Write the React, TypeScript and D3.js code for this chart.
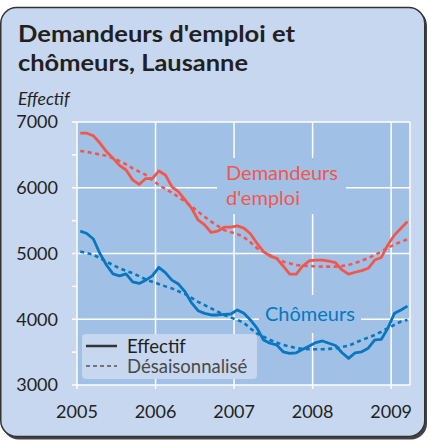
import * as d3 from "d3";

// monthly values, Jan 2005 .. Mar 2009
const demandeurs = [
  6830, 6830, 6790, 6680, 6550, 6450, 6340, 6270, 6120, 6050, 6140, 6140,
  6255, 6195, 6015, 5940, 5815, 5690, 5510, 5435, 5320, 5340, 5400, 5400,
  5420, 5385, 5300, 5155, 5030, 4960, 4925, 4810, 4685, 4685, 4810, 4890,
  4900, 4900, 4885, 4860, 4750, 4685, 4715, 4740, 4775, 4900, 4940, 5130,
  5280, 5385, 5485,
];
const demandeursDes = [
  6560, 6545, 6525, 6505, 6485, 6450, 6405, 6355, 6295, 6245, 6195, 6120,
  6040, 5985, 5925, 5860, 5790, 5715, 5635, 5560, 5485, 5420, 5355, 5325,
  5295, 5250, 5170, 5080, 5025, 4975, 4925, 4875, 4850, 4825, 4815, 4810,
  4805, 4800, 4800, 4800, 4810, 4825, 4855, 4890, 4930, 4975, 5030, 5090,
  5135, 5180, 5215,
];
const chomeurs = [
  5340, 5305, 5220, 5000, 4825, 4690, 4660, 4690, 4570, 4545, 4595, 4660,
  4790, 4710, 4595, 4535, 4420, 4250, 4130, 4090, 4065, 4065, 4075, 4080,
  4140, 4090, 3990, 3865, 3685, 3635, 3610, 3505, 3480, 3490, 3545, 3595,
  3645, 3670, 3635, 3600, 3490, 3405, 3490, 3505, 3560, 3685, 3695, 3865,
  4090, 4140, 4200,
];
const chomeursDes = [
  5030, 5005, 4980, 4930, 4875, 4825, 4775, 4735, 4700, 4655, 4605, 4570,
  4535, 4500, 4470, 4425, 4385, 4325, 4265, 4215, 4165, 4115, 4065, 4025,
  3990, 3945, 3860, 3785, 3735, 3685, 3645, 3610, 3585, 3560, 3550, 3545,
  3543, 3543, 3550, 3558, 3578, 3598, 3640, 3685, 3720, 3760, 3810, 3865,
  3915, 3965, 3990,
];
const years = [2005, 2006, 2007, 2008, 2009];
const yTicks = [3000, 4000, 5000, 6000, 7000];
const yMinor = [3500, 4500, 5500, 6500];

const PANEL = "#c6d7ef";
const PLOT = "#a0c0e6";
const RED = "#f2574c";
const BLUE = "#0677c0";
const FONT = "Lato, 'Open Sans', sans-serif";

export default function App() {
  const x = d3.scaleLinear().domain([2005, 2009.24]).range([77, 410]);
  const y = d3.scaleLinear().domain([3000, 7000]).range([385, 122]);
  const t = (i: number) => 2005 + (i + 0.5) / 12;

  const line = d3
    .line<number>()
    .x((_, i) => x(t(i)))
    .y((d) => y(d))
    .curve(d3.curveLinear);

  return (
    <svg
      width={429}
      height={441}
      style={{ position: "absolute", left: 0, top: 0 }}
      fontFamily={FONT}
    >
      <rect x={2.5} y={9.5} width={424.5} height={430} rx={16} fill="#444" />
      <rect x={0.75} y={7.5} width={424} height={429} rx={16} fill={PANEL} stroke="#333" strokeWidth={1.5} />

      <text x={18} y={42} fontSize={22.5} fontWeight="bold" fill="#231f20" textLength={277} lengthAdjust="spacingAndGlyphs">
        Demandeurs d'emploi et
      </text>
      <text x={18} y={71} fontSize={22.5} fontWeight="bold" fill="#231f20" textLength={230} lengthAdjust="spacingAndGlyphs">
        chômeurs, Lausanne
      </text>
      <text x={18} y={105} fontSize={17.5} fontStyle="italic" fill="#231f20">
        Effectif
      </text>

      <rect x={x(2005)} y={y(7000)} width={x.range()[1] - x(2005)} height={y(3000) - y(7000)} fill={PLOT} />

      {yTicks.map((v) => (
        <line key={"h" + v} x1={72} x2={410} y1={y(v)} y2={y(v)} stroke="#fff" strokeWidth={1.5} />
      ))}
      {yMinor.map((v) => (
        <line key={"m" + v} x1={72} x2={77} y1={y(v)} y2={y(v)} stroke="#fff" strokeWidth={1.5} />
      ))}
      {years.map((v) => (
        <line key={"v" + v} x1={x(v)} x2={x(v)} y1={y(7000)} y2={389} stroke="#fff" strokeWidth={1.5} />
      ))}
      <line x1={410} x2={410} y1={y(7000)} y2={y(3000)} stroke="#fff" strokeWidth={1.5} />

      {/* label halos */}
      <rect x={217} y={158} width={129} height={56} fill={PLOT} />
      <rect x={259} y={295} width={102} height={38} fill={PLOT} />

      <path d={line(demandeursDes) ?? ""} fill="none" stroke={RED} strokeWidth={2.6} strokeDasharray="4,3.5" />
      <path d={line(chomeursDes) ?? ""} fill="none" stroke={BLUE} strokeWidth={2.6} strokeDasharray="4,3.5" />
      <path d={line(demandeurs) ?? ""} fill="none" stroke={RED} strokeWidth={2.8} strokeLinejoin="round" />
      <path d={line(chomeurs) ?? ""} fill="none" stroke={BLUE} strokeWidth={2.8} strokeLinejoin="round" />

      <text x={226} y={180} fontSize={20} fill={RED}>Demandeurs</text>
      <text x={226} y={205} fontSize={20} fill={RED}>d'emploi</text>
      <text x={265} y={321} fontSize={20} fill={BLUE}>Chômeurs</text>

      {yTicks.map((v) => (
        <text key={"yl" + v} x={58} y={y(v)} dy="0.36em" textAnchor="end" fontSize={18} fill="#231f20">
          {v}
        </text>
      ))}
      {years.map((v) => (
        <text key={"xl" + v} x={x(v)} y={418} textAnchor="middle" fontSize={18} fill="#231f20">
          {v}
        </text>
      ))}

      {/* legend */}
      <rect x={82} y={334} width={175} height={45} rx={4} fill={PANEL} />
      <line x1={86} x2={117} y1={346} y2={346} stroke="#333" strokeWidth={2.5} />
      <line x1={86} x2={117} y1={366} y2={366} stroke="#555" strokeWidth={1.5} strokeDasharray="4,3" />
      <text x={127} y={353} fontSize={18.5} fill="#231f20">Effectif</text>
      <text x={127} y={373} fontSize={18.5} fill="#4a4a4a">Désaisonnalisé</text>
    </svg>
  );
}
